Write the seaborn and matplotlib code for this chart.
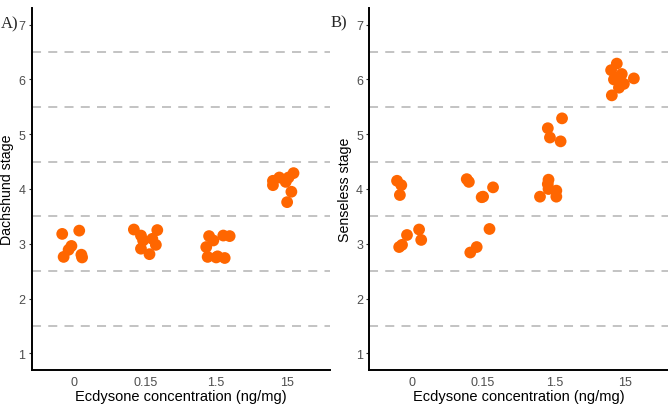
import numpy as np
import pandas as pd
import matplotlib
matplotlib.use("Agg")
import matplotlib.pyplot as plt
import seaborn as sns

categories = ["0", "0.15", "1.5", "15"]

# Panel A: Dachshund stage (jittered points)
dac_group = ["0"] * 7 + ["0.15"] * 8 + ["1.5"] * 9 + ["15"] * 8
dac_jitter = [-0.17, 0.07, -0.04, -0.08, -0.15, 0.10, 0.11,
              -0.16, 0.17, -0.06, -0.03, 0.10, -0.06, 0.15, 0.06,
              -0.10, 0.10, 0.19, -0.04, -0.14, 0.02, -0.12, 0.00, 0.12,
              -0.20, -0.11, 0.02, 0.09, -0.20, -0.02, 0.06, 0.00]
dac_stage = [3.18, 3.24, 2.96, 2.89, 2.76, 2.80, 2.75,
             3.26, 3.25, 3.15, 3.06, 3.09, 2.91, 2.98, 2.81,
             3.14, 3.15, 3.14, 3.06, 2.94, 2.77, 2.76, 2.75, 2.74,
             4.15, 4.21, 4.21, 4.29, 4.07, 4.13, 3.95, 3.76]

# Panel B: Senseless stage (jittered points)
sen_group = ["0"] * 8 + ["0.15"] * 8 + ["1.5"] * 10 + ["15"] * 9
sen_jitter = [-0.21, -0.15, -0.17, -0.07, 0.10, 0.13, -0.14, -0.18,
              -0.23, -0.20, -0.02, 0.00, 0.14, 0.09, -0.09, -0.18,
              -0.08, -0.09, -0.08, 0.03, -0.20, 0.03, 0.11, -0.09, -0.06, 0.09,
              -0.12, -0.20, -0.07, -0.16, 0.12, -0.02, -0.09, -0.19, -0.05]
sen_stage = [4.15, 4.07, 3.89, 3.16, 3.26, 3.07, 2.98, 2.94,
             4.18, 4.13, 3.85, 3.86, 4.03, 3.27, 2.94, 2.84,
             4.17, 4.09, 4.00, 3.97, 3.86, 3.86, 5.29, 5.11, 4.94, 4.87,
             6.29, 6.17, 6.06, 6.00, 6.02, 5.92, 5.85, 5.71, 6.10]

orange = "#FF6600"
dash_levels = [1.5, 2.5, 3.5, 4.5, 5.5, 6.5]
yticks = [1, 2, 3, 4, 5, 6, 7]

sns.set_theme(style="white")
plt.rcParams["font.family"] = ["Liberation Sans", "DejaVu Sans"]

fig = plt.figure(figsize=(6.68, 4.06), dpi=100)
axA = fig.add_axes([31.7 / 668, 35.3 / 406, 298 / 668, 361.4 / 406])
axB = fig.add_axes([369.3 / 668, 35.3 / 406, 298.7 / 668, 361.4 / 406])


def panel(ax, groups, jitter, stage, ylabel):
    idx = [categories.index(g) for g in groups]
    df = pd.DataFrame({"x": np.array(idx) + np.array(jitter), "y": stage})
    for lv in dash_levels:
        ax.axhline(lv, color="#BEBEBE", lw=1.3, ls=(0, (5, 4)), zorder=1)
    sns.scatterplot(data=df, x="x", y="y", ax=ax, color=orange, s=72,
                    edgecolor="none", linewidth=0, alpha=1, zorder=3)
    ax.set_xlim(-0.6, 3.6)
    ax.set_ylim(0.7, 7.3)
    ax.set_xticks(range(len(categories)))
    ax.set_xticklabels(categories)
    ax.set_yticks(yticks)
    ax.set_yticklabels([str(t) for t in yticks])
    ax.set_xlabel("Ecdysone concentration (ng/mg)", fontsize=10.5, color="black", labelpad=1)
    ax.set_ylabel(ylabel, fontsize=10.2, color="black", labelpad=3)
    ax.tick_params(axis="both", colors="#333333", labelcolor="#4D4D4D", labelsize=9,
                   length=2.5, width=0.8, direction="out", pad=2, left=True, bottom=False)
    for s in ["top", "right"]:
        ax.spines[s].set_visible(False)
    for s in ["left", "bottom"]:
        ax.spines[s].set_color("black")
        ax.spines[s].set_linewidth(1.4)
    ax.grid(False)


panel(axA, dac_group, dac_jitter, dac_stage, "Dachshund stage")
panel(axB, sen_group, sen_jitter, sen_stage, "Senseless stage")

serif = ["Liberation Serif", "DejaVu Serif"]
fig.text(1 / 668, 1 - 24 / 406, "A)", fontsize=12, family=serif, ha="left", va="center")
fig.text(331 / 668, 1 - 23 / 406, "B)", fontsize=12, family=serif, ha="left", va="center")

fig.savefig("out.png", dpi=100)
